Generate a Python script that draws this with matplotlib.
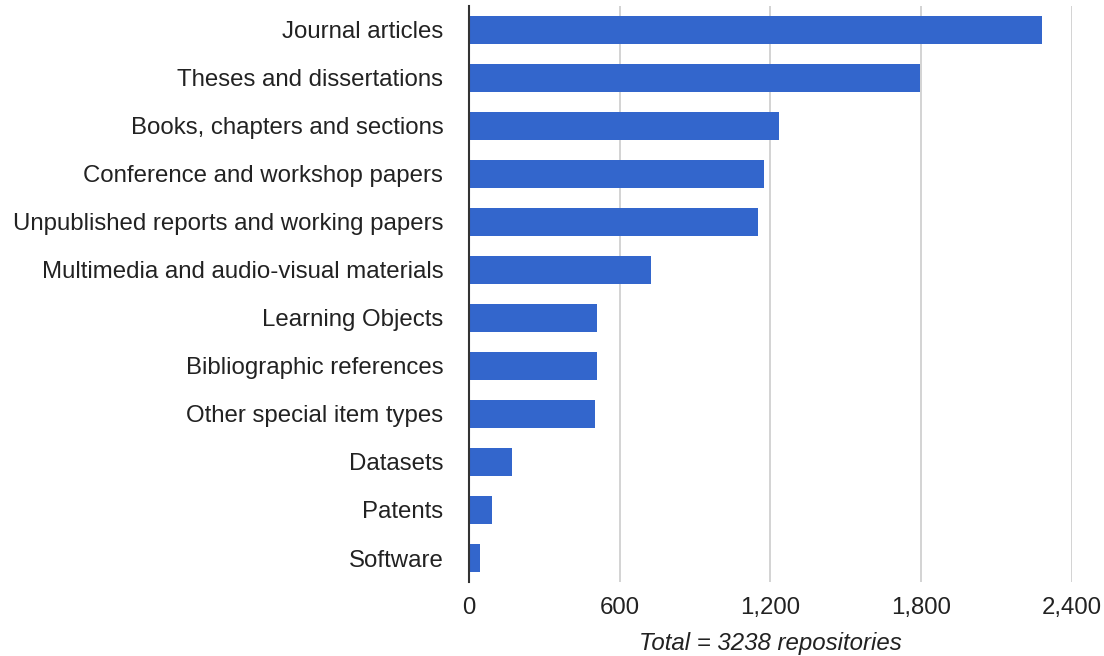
import matplotlib.pyplot as plt
import numpy as np

# Datos
categorias = [
    "Journal articles",
    "Theses and dissertations",
    "Books, chapters and sections",
    "Conference and workshop papers",
    "Unpublished reports and working papers",
    "Multimedia and audio-visual materials",
    "Learning Objects",
    "Bibliographic references",
    "Other special item types",
    "Datasets",
    "Patents",
    "Software",
]
valores = [2280, 1797, 1233, 1175, 1151, 725, 509, 509, 501, 172, 93, 45]
ticks_x = [0, 600, 1200, 1800, 2400]
etiquetas_x = ["0", "600", "1,200", "1,800", "2,400"]

plt.rcParams['font.family'] = ['Liberation Sans', 'DejaVu Sans']

fig = plt.figure(figsize=(11.04, 6.56), dpi=100)
ax = fig.add_axes([0.4248, 0.1128, 0.5462, 0.8781])

y = np.arange(len(categorias))
ax.barh(y, valores, height=0.58, color='#3366cc', zorder=3)

ax.set_xlim(0, 2400)
ax.set_ylim(len(categorias) - 0.5, -0.5)
ax.set_yticks(y)
ax.set_yticklabels(categorias, fontsize=17.3, color='#222222')
ax.set_xticks(ticks_x)
ax.set_xticklabels(etiquetas_x, fontsize=17.3, color='#222222')
ax.tick_params(axis='both', length=0)
ax.tick_params(axis='y', pad=18.5)
ax.tick_params(axis='x', pad=11)

ax.grid(axis='x', color='#cccccc', linewidth=1.2, zorder=0)
for s in ['top', 'right', 'bottom']:
    ax.spines[s].set_visible(False)
ax.spines['left'].set_color('#333333')
ax.spines['left'].set_linewidth(1.5)
ax.spines['left'].set_zorder(4)

ax.set_xlabel('Total = 3238 repositories', fontsize=17.3, style='italic',
              color='#222222', labelpad=9)

fig.savefig('out.png', dpi=100)
